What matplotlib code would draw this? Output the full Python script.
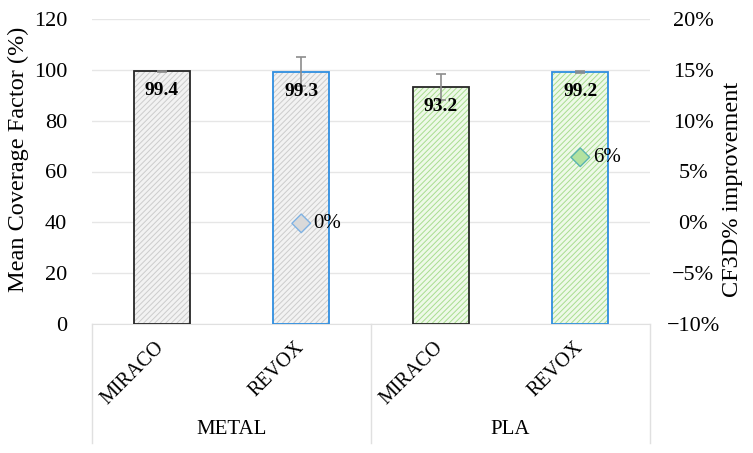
# Coverage factor bar chart with CF3D% improvement markers on a twin axis

import matplotlib.pyplot as plt
import numpy as np
from matplotlib.ticker import FuncFormatter

plt.rcParams['font.family'] = ['Liberation Serif', 'DejaVu Serif']
plt.rcParams['hatch.linewidth'] = 0.7

# data
machines = ['MIRACO', 'REVOX', 'MIRACO', 'REVOX']
groups = ['METAL', 'PLA']
coverage = [99.4, 99.3, 93.2, 99.2]
coverage_err = [0.3, 5.8, 5.0, 0.5]
improve_idx = [1, 3]            # REVOX bars carry the improvement marker
improvement = [-0.001, 0.064]
improve_labels = ['0%', '6%']

fill_cols = ['#f2f2f2', '#f2f2f2', '#eef9e8', '#eef9e8']
hatch_cols = ['#cccccc', '#cccccc', '#a9dd90', '#a9dd90']
edge_cols = ['#262626', '#2f8ee0', '#262626', '#2f8ee0']
mk_face = ['#d9d9d9', '#b3e2a0']
mk_edge = ['#7fb2e3', '#5ab4b0']

x = np.arange(len(machines))
w = 0.4

fig = plt.figure(figsize=(7.53, 4.53), dpi=100)
ax = fig.add_axes([92 / 753, 1 - 324 / 453, 558 / 753, 305 / 453])

# fill + hatch, then outline on top
ax.bar(x, coverage, w, color=fill_cols, zorder=2)
ax.bar(x, coverage, w, color='none', edgecolor=hatch_cols, hatch='//////', linewidth=0, zorder=2)
ax.bar(x, coverage, w, color='none', edgecolor=edge_cols, linewidth=1.3, zorder=3)
ax.errorbar(x, coverage, yerr=coverage_err, fmt='none', ecolor='#8c8c8c',
            elinewidth=1.2, capsize=3.5, capthick=1.2, zorder=4)

for xi, v in zip(x, coverage):
    ax.annotate(f'{v:.1f}', (xi, v), xytext=(0, -8), textcoords='offset points',
                ha='center', va='top', fontsize=14, fontweight='bold', zorder=5)

ax.set_ylim(0, 120)
ax.set_yticks(np.arange(0, 121, 20))
ax.set_xlim(-0.5, 3.5)
ax.grid(axis='y', color='#e6e6e6', linewidth=1.0, zorder=0)
ax.set_axisbelow(True)
for s in ['top', 'right', 'left']:
    ax.spines[s].set_visible(False)
ax.spines['bottom'].set_color('#e0e0e0')
ax.tick_params(axis='y', length=0, labelsize=16, pad=18)
ax.set_xticks([])
ax.set_ylabel('Mean Coverage Factor (%)', fontsize=17.5)
ax.yaxis.set_label_coords(-0.113, 0.54)

# two-level category axis
for xi, name in zip(x, machines):
    ax.annotate(name, (xi, 0), xytext=(-5, -10), textcoords='offset points',
                ha='right', va='top', rotation=45, rotation_mode='anchor', fontsize=14.5)
tr = ax.get_xaxis_transform()
box_depth = -(443 - 324) / 305
for xs in [-0.5, 1.5, 3.5]:
    ax.plot([xs, xs], [0, box_depth], transform=tr, color='#e0e0e0', linewidth=1.0, clip_on=False)
for gi, g in enumerate(groups):
    ax.text(gi * 2 + 0.5, -(430 - 324) / 305, g, transform=tr, ha='center', va='center', fontsize=15)

# improvement markers on the right axis
ax2 = ax.twinx()
ax2.set_ylim(-0.1, 0.2)
ax2.set_yticks(np.arange(-0.1, 0.21, 0.05))
ax2.yaxis.set_major_formatter(FuncFormatter(lambda v, p: f'{v * 100:.0f}%'.replace('-', '\u2212')))
for s in ['top', 'right', 'left', 'bottom']:
    ax2.spines[s].set_visible(False)
ax2.tick_params(axis='y', length=0, labelsize=16, pad=31)
for lbl in ax2.get_yticklabels():
    lbl.set_ha('center')
ax2.set_ylabel('CF3D% improvement', fontsize=17.5)
ax2.yaxis.set_label_coords(1.129, 0.44)

xs_imp = [x[i] for i in improve_idx]
ax2.scatter(xs_imp, improvement, marker='D', s=90, c=mk_face, edgecolors=mk_edge,
            linewidths=1.0, zorder=6)
for xi, v, lab in zip(xs_imp, improvement, improve_labels):
    ax2.annotate(lab, (xi, v), xytext=(9, 0), textcoords='offset points',
                 ha='left', va='center', fontsize=15)

plt.savefig('out.png', dpi=100)
plt.close()
